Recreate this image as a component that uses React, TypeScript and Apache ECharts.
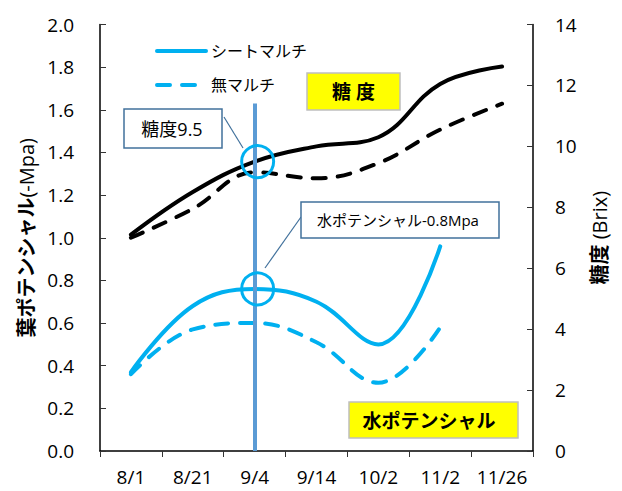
import React, { useEffect, useRef } from "react";
import * as echarts from "echarts";

// Sampling dates (category axis)
const dates = ["8/1", "8/21", "9/4", "9/14", "10/2", "11/2", "11/26"];

// Leaf water potential (-MPa), left axis
const potentialSheet: (number | null)[] = [0.37, 0.68, 0.76, 0.7, 0.5, 0.96, null];
const potentialBare: (number | null)[] = [0.36, 0.57, 0.6, 0.51, 0.32, 0.58, null];

// Sugar content (Brix), right axis
const brixSheet = [7.1, 8.5, 9.5, 10.0, 10.3, 12.05, 12.62];
const brixBare = [7.0, 7.95, 9.15, 8.95, 9.45, 10.55, 11.4];

// Axis ranges
const potentialRange = { min: 0, max: 2, interval: 0.2 };
const brixRange = { min: 0, max: 14, interval: 2 };

// Highlighted date and the readings called out on it
const markerDate = "9/4";
const markerBrix = 9.5;
const markerPotential = 0.76;
const markerLineTop = 1.63;

const seriesNames = ["シートマルチ", "無マルチ"];

const FONT = "'Open Sans', 'Noto Sans CJK JP', sans-serif";
const CYAN = "#00B0F0";
const BOX_BLUE = "#41719C";

export default function App() {
  const ref = useRef<HTMLDivElement>(null);

  useEffect(() => {
    if (!ref.current) return;
    const chart = echarts.init(ref.current, undefined, { renderer: "svg" });

    const dash = [13, 12];

    chart.setOption({
      animation: false,
      backgroundColor: "#ffffff",
      textStyle: { fontFamily: FONT },
      grid: { left: 100, right: 89, top: 24.5, bottom: 40, outerBoundsMode: "none" },
      legend: {
        data: seriesNames,
        orient: "vertical",
        left: 150,
        top: 38,
        itemWidth: 49,
        itemHeight: 16,
        itemGap: 18,
        itemStyle: { opacity: 0 },
        lineStyle: { width: 4, cap: "round" },
        textStyle: { fontSize: 16, color: "#000", fontFamily: FONT },
      },
      xAxis: {
        type: "category",
        data: dates,
        boundaryGap: true,
        axisLine: { lineStyle: { color: "#000", width: 1.5 } },
        axisTick: { show: true, length: 6, lineStyle: { color: "#333" } },
        axisLabel: { interval: 0, fontSize: 19, color: "#000", margin: 16, fontFamily: FONT },
      },
      yAxis: [
        {
          type: "value",
          ...potentialRange,
          position: "left",
          name: "{b|葉ポテンシャル}{r|(-Mpa)}",
          nameLocation: "middle",
          nameRotate: 90,
          nameGap: 64,
          nameTextStyle: {
            rich: {
              b: { fontSize: 20, fontWeight: "bold", color: "#000", fontFamily: FONT },
              r: { fontSize: 20, color: "#000", fontFamily: FONT },
            },
          },
          splitLine: { show: false },
          axisLine: { show: true, lineStyle: { color: "#000", width: 1.5 } },
          axisTick: { show: true, inside: true, length: 6, lineStyle: { color: "#333" } },
          axisLabel: {
            fontSize: 19,
            color: "#000",
            margin: 26,
            fontFamily: FONT,
            formatter: (v: number) => v.toFixed(1),
          },
        },
        {
          type: "value",
          ...brixRange,
          position: "right",
          name: "{b|糖度}{r| (Brix)}",
          nameLocation: "middle",
          nameRotate: 90,
          nameGap: 56,
          nameTextStyle: {
            rich: {
              b: { fontSize: 20, fontWeight: "bold", color: "#000", fontFamily: FONT },
              r: { fontSize: 20, color: "#000", fontFamily: FONT },
            },
          },
          splitLine: { show: false },
          axisLine: { show: true, lineStyle: { color: "#000", width: 1.5 } },
          axisTick: { show: true, inside: true, length: 6, lineStyle: { color: "#333" } },
          axisLabel: { fontSize: 19, color: "#000", margin: 22, fontFamily: FONT },
        },
      ],
      series: [
        {
          name: seriesNames[0],
          type: "line",
          yAxisIndex: 0,
          data: potentialSheet,
          smooth: 0.4,
          symbol: "none",
          lineStyle: { color: CYAN, width: 4, cap: "round" },
          itemStyle: { color: CYAN },
        },
        {
          name: seriesNames[1],
          type: "line",
          yAxisIndex: 0,
          data: potentialBare,
          smooth: 0.4,
          symbol: "none",
          lineStyle: { color: CYAN, width: 4, type: dash, cap: "round" },
          itemStyle: { color: CYAN },
        },
        {
          name: "糖度シートマルチ",
          type: "line",
          yAxisIndex: 1,
          data: brixSheet,
          smooth: 0.4,
          symbol: "none",
          lineStyle: { color: "#000", width: 4, cap: "round" },
          itemStyle: { color: "#000" },
        },
        {
          name: "糖度無マルチ",
          type: "line",
          yAxisIndex: 1,
          data: brixBare,
          smooth: 0.4,
          symbol: "none",
          lineStyle: { color: "#000", width: 4, type: dash, cap: "round" },
          itemStyle: { color: "#000" },
        },
        {
          name: "marker",
          type: "line",
          yAxisIndex: 0,
          data: [],
          z: 5,
          silent: true,
          markLine: {
            silent: true,
            symbol: ["none", "none"],
            label: { show: false },
            lineStyle: { color: "#5B9BD5", width: 4, type: "solid" },
            data: [[{ coord: [markerDate, 0] }, { coord: [markerDate, markerLineTop] }]],
          },
        },
        {
          name: "marker-brix",
          type: "line",
          yAxisIndex: 1,
          data: [],
          z: 6,
          silent: true,
          markPoint: {
            silent: true,
            symbol: "circle",
            symbolSize: 32,
            symbolOffset: [3, 0],
            label: { show: false },
            itemStyle: { color: "rgba(0,0,0,0)", borderColor: CYAN, borderWidth: 3 },
            data: [{ coord: [markerDate, markerBrix] }],
          },
        },
        {
          name: "marker-potential",
          type: "line",
          yAxisIndex: 0,
          data: [],
          z: 6,
          silent: true,
          markPoint: {
            silent: true,
            symbol: "circle",
            symbolSize: 32,
            symbolOffset: [3, 0],
            label: { show: false },
            itemStyle: { color: "rgba(0,0,0,0)", borderColor: CYAN, borderWidth: 3 },
            data: [{ coord: [markerDate, markerPotential] }],
          },
        },
      ],
      graphic: [
        // callout: sugar reading
        {
          type: "line",
          z: 20,
          shape: { x1: 224, y1: 117, x2: 243, y2: 148 },
          style: { stroke: BOX_BLUE, lineWidth: 1.2 },
        },
        {
          type: "rect",
          z: 20,
          shape: { x: 124, y: 109, width: 98, height: 39 },
          style: { fill: "#fff", stroke: BOX_BLUE, lineWidth: 1.5 },
        },
        {
          type: "text",
          z: 21,
          x: 172,
          y: 129,
          style: {
            text: `糖度${markerBrix}`,
            fill: "#000",
            font: `18px ${FONT}`,
            align: "center",
            verticalAlign: "middle",
          },
        },
        // callout: water potential reading
        {
          type: "line",
          z: 20,
          shape: { x1: 301, y1: 217, x2: 265, y2: 268 },
          style: { stroke: BOX_BLUE, lineWidth: 1.2 },
        },
        {
          type: "rect",
          z: 20,
          shape: { x: 301, y: 202, width: 198, height: 36 },
          style: { fill: "#fff", stroke: BOX_BLUE, lineWidth: 1.5 },
        },
        {
          type: "text",
          z: 21,
          x: 398,
          y: 220,
          style: {
            text: `水ポテンシャル-${markerPotential.toFixed(1)}Mpa`,
            fill: "#000",
            font: `15px ${FONT}`,
            align: "center",
            verticalAlign: "middle",
          },
        },
        // yellow titles
        {
          type: "rect",
          z: 20,
          shape: { x: 307, y: 73, width: 93, height: 37 },
          style: { fill: "#FFFF00", stroke: "#BFBFBF", lineWidth: 1.5 },
        },
        {
          type: "text",
          z: 21,
          x: 353.5,
          y: 92,
          style: {
            text: "糖 度",
            fill: "#000",
            font: `bold 19px ${FONT}`,
            align: "center",
            verticalAlign: "middle",
          },
        },
        {
          type: "rect",
          z: 20,
          shape: { x: 349, y: 402, width: 169, height: 36 },
          style: { fill: "#FFFF00", stroke: "#BFBFBF", lineWidth: 1.5 },
        },
        {
          type: "text",
          z: 21,
          x: 429,
          y: 421,
          style: {
            text: "水ポテンシャル",
            fill: "#000",
            font: `bold 19px ${FONT}`,
            align: "center",
            verticalAlign: "middle",
          },
        },
      ],
    });

    return () => chart.dispose();
  }, []);

  return (
    <div
      ref={ref}
      style={{ position: "fixed", left: 0, top: 0, width: 622, height: 491, background: "#fff" }}
    />
  );
}
